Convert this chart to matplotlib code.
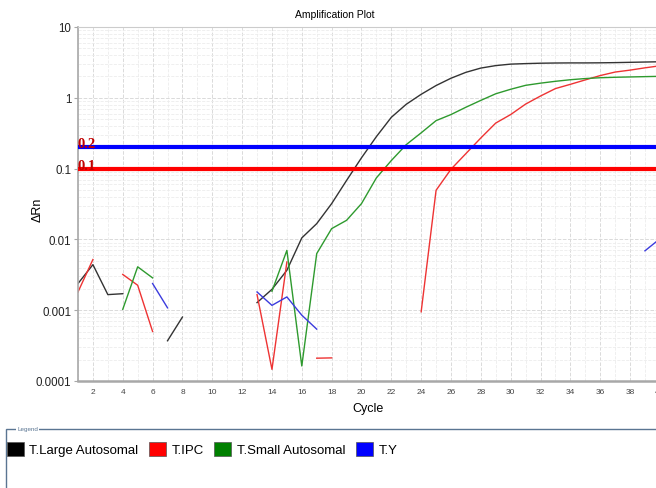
import numpy as np
import matplotlib
matplotlib.use('Agg')
import matplotlib.pyplot as plt
from matplotlib.patches import Patch, Rectangle
from matplotlib.ticker import LogLocator, MultipleLocator, FixedLocator

plt.rcParams['font.family'] = ['Liberation Sans', 'DejaVu Sans']

nan = np.nan
cycles = np.arange(1, 41)

# delta Rn per cycle (gaps = negative/undefined values)
large_auto = [0.00238, 0.0044, 0.00166, 0.00171, nan, nan, 0.00037, 0.0008,
              nan, nan, nan, nan,
              0.00128, 0.00197, 0.00366, 0.0105, 0.0167, 0.032, 0.068, 0.142,
              0.283, 0.53, 0.81, 1.12, 1.49, 1.89, 2.29, 2.63, 2.85, 2.99,
              3.04, 3.08, 3.10, 3.11, 3.11, 3.12, 3.14, 3.17, 3.20, 3.23]
ipc = [0.00181, 0.0052, nan, 0.0032, 0.00225, 0.0005,
       nan, nan, nan, nan, nan, nan,
       0.00166, 0.000146, 0.0048, nan, 0.00021, 0.000212,
       nan, nan, nan, nan, nan,
       0.00095, 0.0494, 0.098, 0.163, 0.271, 0.44, 0.58, 0.815, 1.06,
       1.35, 1.55, 1.79, 2.06, 2.31, 2.46, 2.65, 2.83]
small_auto = [nan, nan, nan, 0.00103, 0.0041, 0.00286,
              nan, nan, nan, nan, nan, nan, nan,
              0.00185, 0.0070, 0.000163, 0.0063, 0.0142, 0.0186, 0.032,
              0.074, 0.13, 0.218, 0.32, 0.476, 0.58, 0.736, 0.92, 1.14, 1.32,
              1.5, 1.61, 1.71, 1.80, 1.87, 1.92, 1.95, 1.97, 1.99, 2.01]
y_target = [nan, nan, nan, nan, nan, 0.00238, 0.00108,
            nan, nan, nan, nan, nan,
            0.00181, 0.00117, 0.00154, 0.00085, 0.00054] + [nan] * 21 + [0.0069, 0.0102]

names = ['T.Large Autosomal', 'T.IPC', 'T.Small Autosomal', 'T.Y']
series = [large_auto, ipc, small_auto, y_target]
line_colors = ['#333333', '#ee3333', '#2e9a2e', '#3b3bdd']
legend_colors = ['#000000', '#ff0000', '#008000', '#0000ff']

thresholds = [0.2, 0.1]
threshold_colors = ['#0000ff', '#ff0000']
threshold_labels = ['0.2', '0.1']

W, H = 656, 489
fig = plt.figure(figsize=(W / 100, H / 100), dpi=100)
ax = fig.add_axes([78 / W, (H - 382) / H, 622 / W, 354 / H])

for vals, c in zip(series, line_colors):
    ax.plot(cycles, vals, color=c, lw=1.0)

for t, c, lab in zip(thresholds, threshold_colors, threshold_labels):
    ax.axhline(t, color=c, lw=3, zorder=3)
    ax.text(1.0, t * 1.12, lab, color='#c00000', fontsize=10.5, fontweight='bold',
            family='Liberation Serif', va='center', ha='left', zorder=4)

ax.set_yscale('log')
ax.set_ylim(1e-4, 10)
ax.set_xlim(1, 1 + 622 / 14.92)
ax.xaxis.set_major_locator(MultipleLocator(2))
ax.xaxis.set_minor_locator(MultipleLocator(1))
ax.yaxis.set_major_locator(FixedLocator([1e-4, 1e-3, 1e-2, 0.1, 1, 10]))
ax.yaxis.set_minor_locator(LogLocator(base=10, subs=np.arange(2, 10)))
ax.set_yticklabels(['0.0001', '0.001', '0.01', '0.1', '1', '10'])
ax.yaxis.set_minor_formatter(plt.NullFormatter())

ax.grid(True, which='major', color='#dadada', ls='--', lw=0.7)
ax.grid(True, which='minor', color='#ececec', ls='--', lw=0.6)
ax.set_axisbelow(True)

for s in ['left', 'bottom']:
    ax.spines[s].set_color('#a8a8a8')
ax.spines['bottom'].set_linewidth(1.8)
ax.spines['left'].set_linewidth(1.2)
ax.spines['top'].set_color('#cccccc')
ax.spines['right'].set_visible(False)

ax.tick_params(axis='y', which='major', labelsize=8.3, length=3, color='#a8a8a8', pad=2,
               labelcolor='#222222')
ax.tick_params(axis='y', which='minor', length=0)
ax.tick_params(axis='x', which='major', labelsize=6, length=0, pad=5, labelcolor='#444444')
ax.tick_params(axis='x', which='minor', length=0)

ax.set_xlabel('Cycle', fontsize=9)
ax.xaxis.set_label_coords((368 - 78) / 622, -(409 - 382) / 354)
ax.xaxis.label.set_va('center')
fig.text(38 / W, 1 - 210 / H, 'ΔRn', fontsize=9, rotation=90, ha='center', va='center')
fig.text(335 / W, 1 - 15 / H, 'Amplification Plot', fontsize=7.5, ha='center', va='center')

# legend panel
fig.add_artist(Rectangle((6 / W, -0.1), 1.0, (H - 430) / H + 0.1, transform=fig.transFigure,
                         fill=False, edgecolor='#5a7592', lw=1))
fig.text(17 / W, 1 - 430 / H, 'Legend', fontsize=4.5, color='#5a7592', ha='left', va='center',
         bbox=dict(facecolor='white', edgecolor='none', pad=1))

handles = [Patch(facecolor=c, edgecolor='#555555', lw=0.5) for c in legend_colors]
fig.legend(handles, names, loc='center left', bbox_to_anchor=(7 / W, 1 - 450 / H), ncol=4,
           frameon=False, fontsize=9.5, handlelength=1.3, handleheight=1.3,
           handletextpad=0.4, columnspacing=0.8, borderaxespad=0, borderpad=0)

fig.savefig('out.png', dpi=100)
